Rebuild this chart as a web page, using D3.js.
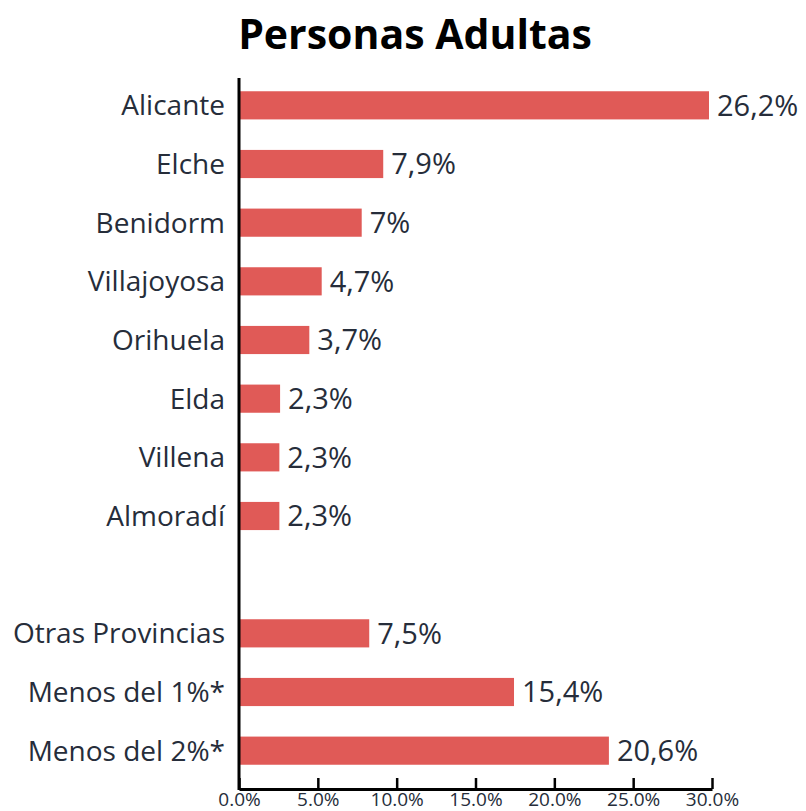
<!DOCTYPE html>
<html>
<head>
<meta charset="utf-8">
<script src="https://cdn.jsdelivr.net/npm/d3@7"></script>
<style>
  body { margin: 0; background: #fff; }
  svg { display: block; }
</style>
</head>
<body>
<div id="chart"></div>
<script>
// municipios, con un hueco antes de los agregados
const categories = ["Alicante", "Elche", "Benidorm", "Villajoyosa", "Orihuela", "Elda",
  "Villena", "Almoradí", "", "Otras Provincias", "Menos del 1%*", "Menos del 2%*"];
const values = [26.2, 8.04, 6.84, 4.61, 3.92, 2.29, 2.25, 2.25, null, 7.26, 15.33, 20.62];
const valueLabels = ["26,2%", "7,9%", "7%", "4,7%", "3,7%", "2,3%", "2,3%", "2,3%", "",
  "7,5%", "15,4%", "20,6%"];
const tickValues = [0, 5, 10, 15, 20, 25, 30];

const width = 806;
const height = 811;
const x0 = 239;
const textColor = "#262d3a";
const font = "'Open Sans', sans-serif";

const svg = d3.select("#chart").append("svg")
  .attr("width", width)
  .attr("height", height);

svg.append("text")
  .attr("x", 415)
  .attr("y", 49)
  .attr("text-anchor", "middle")
  .style("font", "bold 41px " + font)
  .attr("fill", "#000")
  .text("Personas Adultas");

const rows = categories.map((c, i) => ({key: c || "_blank" + i, name: c, value: values[i], label: valueLabels[i]}));

const y = d3.scaleBand()
  .domain(rows.map(d => d.key))
  .range([76, 780])
  .paddingInner(0.52)
  .paddingOuter(0.26);

// bars are scaled to the max value, axis to 0-30 over the same width
const x = d3.scaleLinear()
  .domain([0, d3.max(values)])
  .range([x0, 709]);

const xAxisScale = d3.scaleLinear()
  .domain([0, 30])
  .range([x0, 712]);

const data = rows.filter(d => d.value != null);

svg.append("g")
  .selectAll("rect")
  .data(data)
  .join("rect")
    .attr("x", x0)
    .attr("y", d => y(d.key))
    .attr("width", d => x(d.value) - x0)
    .attr("height", y.bandwidth())
    .attr("fill", "#e05a57");

svg.append("g")
  .style("font", "29px " + font)
  .attr("fill", textColor)
  .selectAll("text")
  .data(data)
  .join("text")
    .attr("x", d => x(d.value) + 8)
    .attr("y", d => y(d.key) + y.bandwidth() / 2)
    .attr("dy", "0.36em")
    .text(d => d.label);

svg.append("g")
  .style("font", "28px " + font)
  .attr("fill", textColor)
  .attr("text-anchor", "end")
  .selectAll("text")
  .data(rows.filter(d => d.name))
  .join("text")
    .attr("x", 225)
    .attr("y", d => y(d.key) + y.bandwidth() / 2)
    .attr("dy", "0.36em")
    .text(d => d.name);

// axes
svg.append("line")
  .attr("x1", x0).attr("x2", x0)
  .attr("y1", 78).attr("y2", 790)
  .attr("stroke", "#000")
  .attr("stroke-width", 3);

const xAxis = svg.append("g")
  .attr("transform", "translate(0,789)")
  .call(d3.axisBottom(xAxisScale)
    .tickValues(tickValues)
    .tickSize(-11)
    .tickSizeOuter(0)
    .tickPadding(3)
    .tickFormat(d => d3.format(".1f")(d) + "%"));

xAxis.select(".domain")
  .attr("stroke", "#000")
  .attr("stroke-width", 3);
xAxis.selectAll(".tick line")
  .attr("stroke", "#000")
  .attr("stroke-width", 2.5);
xAxis.selectAll(".tick text")
  .attr("fill", textColor)
  .style("font", "19px " + font);
</script>
</body>
</html>
